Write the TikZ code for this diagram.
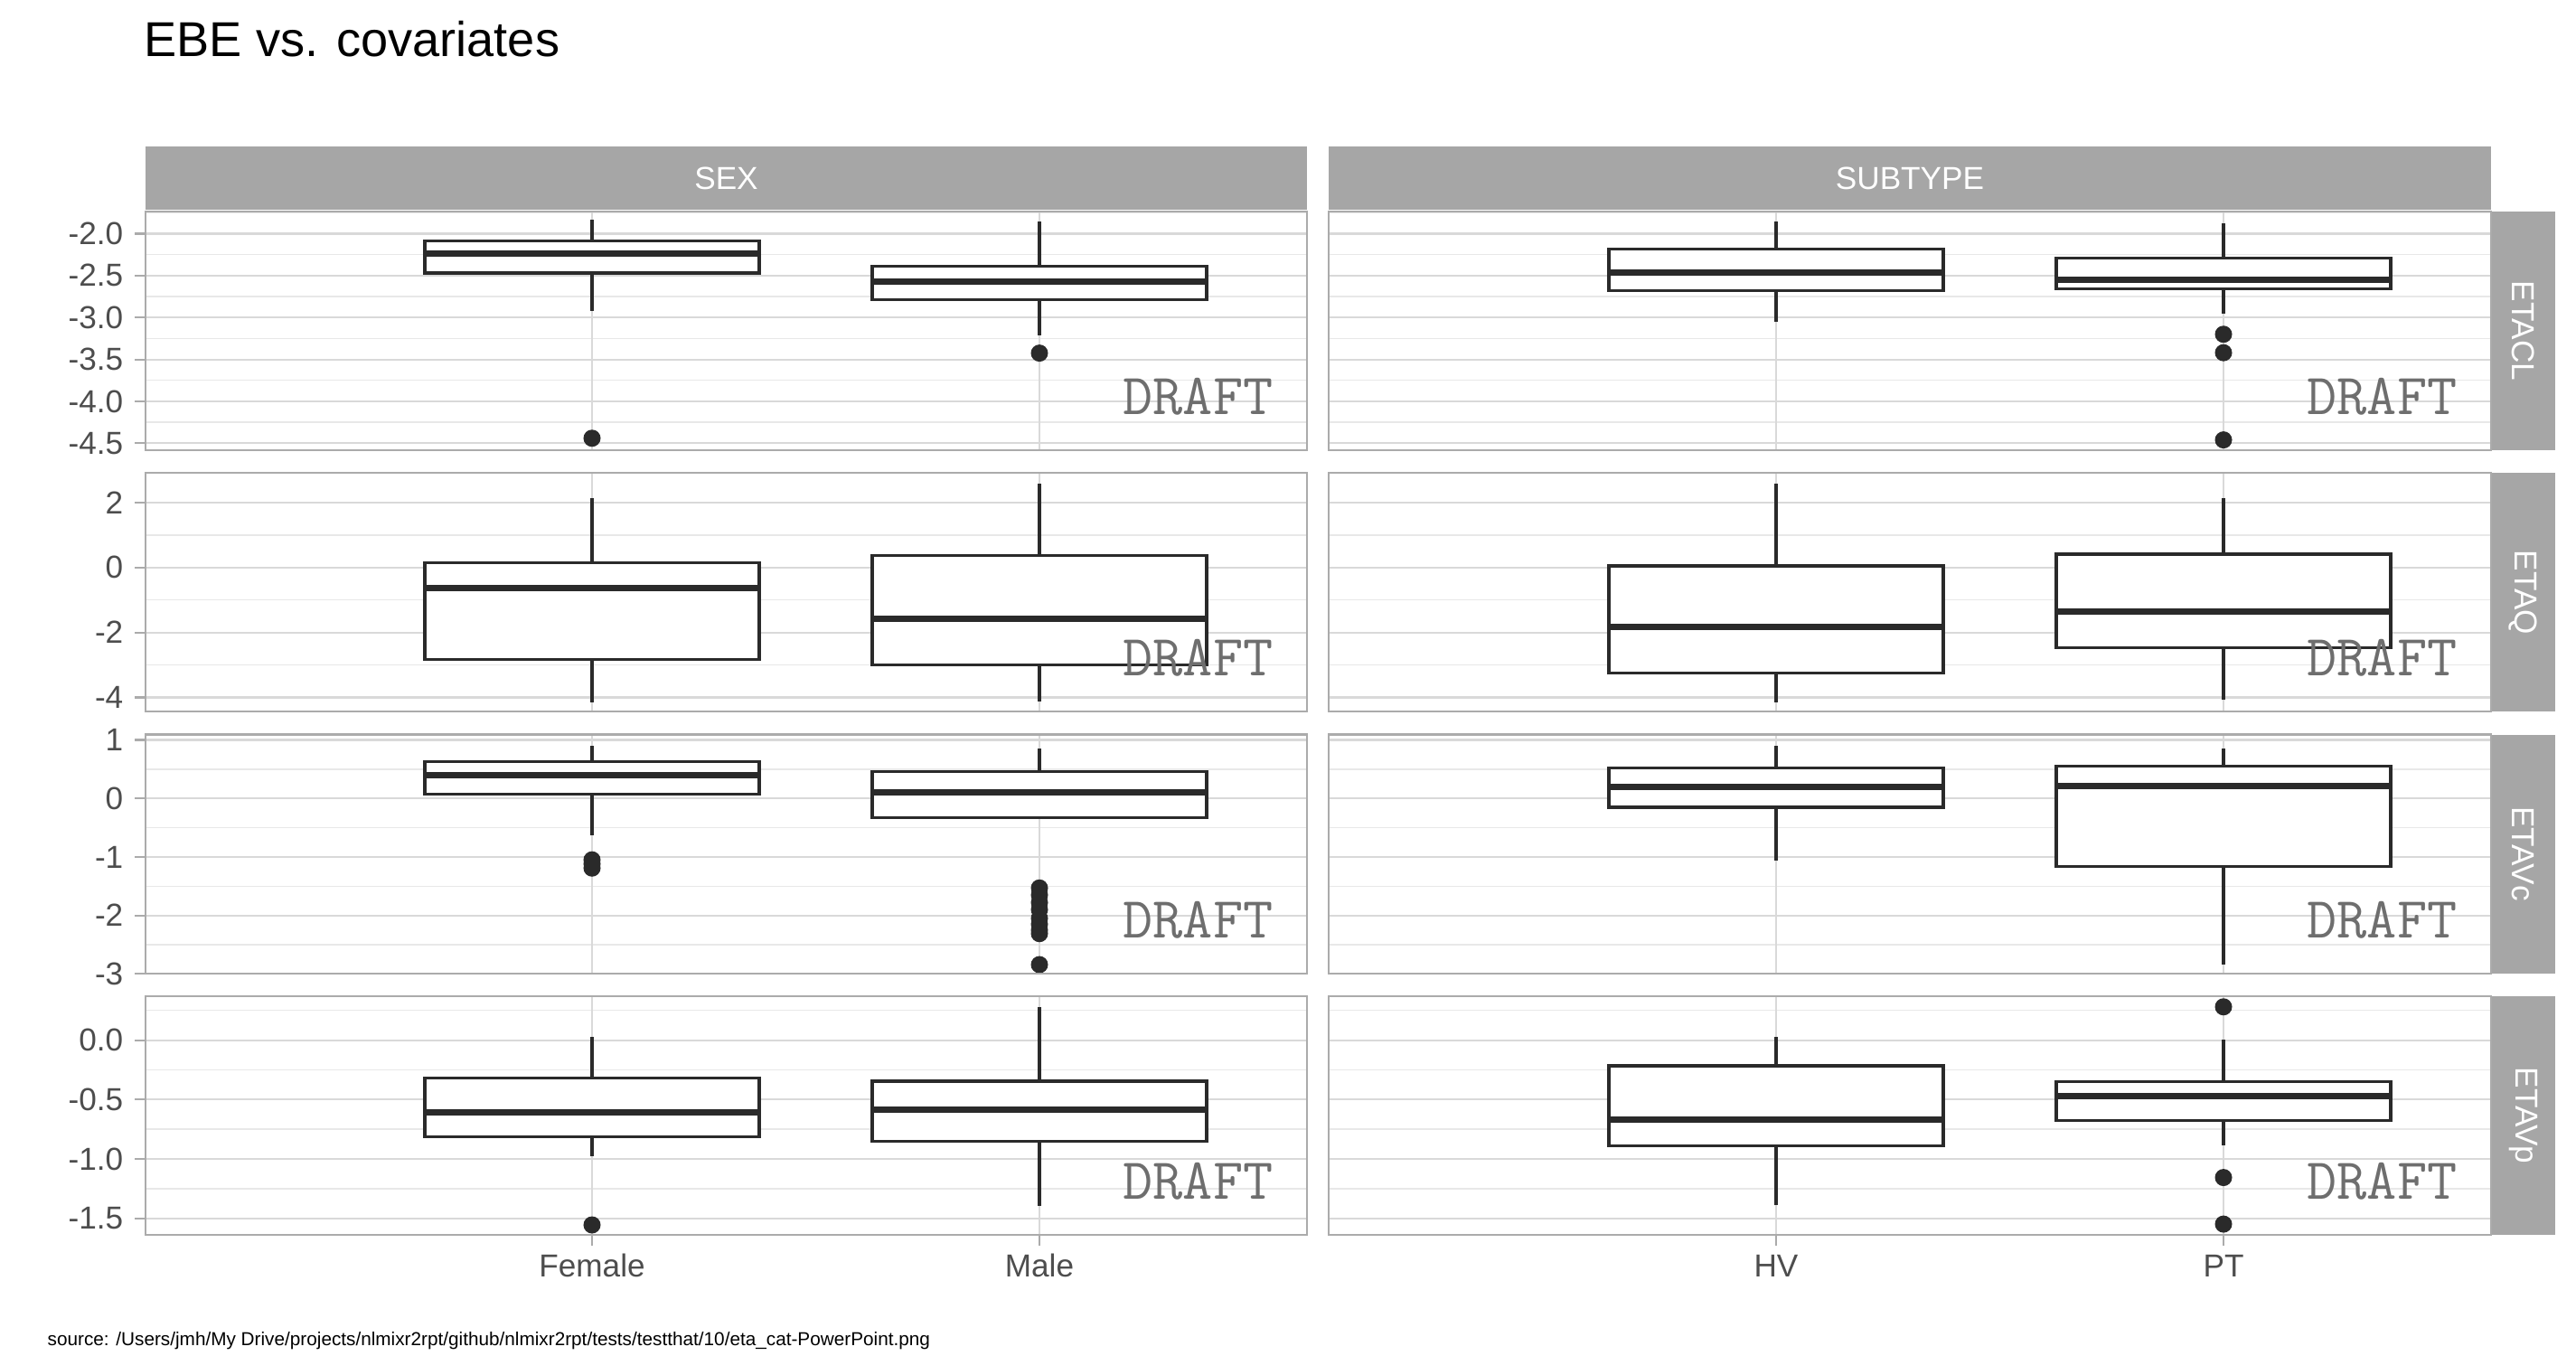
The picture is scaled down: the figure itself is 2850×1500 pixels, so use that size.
\documentclass[tikz,border=0pt]{standalone}
\usepackage{fontspec}
\setmainfont{Liberation Sans}

\definecolor{stripg}{HTML}{A6A6A6}
\definecolor{frameg}{HTML}{ABABAB}
\definecolor{gridA}{HTML}{D9D9D9}
\definecolor{gridB}{HTML}{E8E8E8}
\definecolor{boxln}{HTML}{2A2A2A}
\definecolor{axtxt}{HTML}{4D4D4D}
\definecolor{draftg}{HTML}{6E6E6E}

\tikzset{
  gridmaj/.style={draw=gridA, line width=0.6pt},
  gridmin/.style={draw=gridB, line width=0.4pt},
  gridvert/.style={draw=gridA, line width=0.4pt},
  panelframe/.style={draw=frameg, line width=0.6pt, minimum width=12.85cm, minimum height=2.64cm, inner sep=0pt},
  stripbox/.style={fill=stripg, text=white, inner sep=0pt, font=\fontsize{10}{12}\selectfont},
  tickln/.style={draw=frameg, line width=0.6pt},
  ylab/.style={anchor=east, inner sep=0pt, text=axtxt, font=\fontsize{10}{12}\selectfont},
  xlab/.style={anchor=base, inner sep=0pt, text=axtxt, font=\fontsize{10}{12}\selectfont},
  whisk/.style={draw=boxln, line width=0.9pt},
  boxs/.style={draw=boxln, fill=white, line width=0.9pt},
  medline/.style={draw=boxln, line width=2pt},
  outl/.style={fill=boxln},
  drafttxt/.style={anchor=base east, inner sep=0pt, text=draftg, font=\ttfamily\fontsize{18.3}{20}\selectfont},
}

% x, lower whisker, q1, median, q3, upper whisker
\newcommand{\boxwhisker}[6]{%
  \draw[whisk] (#1,#2) -- (#1,#6);
  \draw[boxs] (#1-185,#3) rectangle (#1+185,#5);
  \draw[medline] (#1-185,#4) -- (#1+185,#4);
}

\begin{document}
\begin{tikzpicture}[x=0.01cm,y=-0.01cm]
    \useasboundingbox[fill=white] (0,0) rectangle (2850,1500);
    \node[anchor=base west, inner sep=0pt, font=\fontsize{15.4}{18}\selectfont] (title) at (159,63) {EBE vs. covariates};

    % facet strips
    \node[stripbox, minimum width=12.85cm, minimum height=0.70cm] (sSEX) at (803.5,197) {SEX};
    \node[stripbox, minimum width=12.85cm, minimum height=0.70cm] (sSUB) at (2113,197) {SUBTYPE};
    \foreach \yc/\nm in {366/ETACL, 655.3/ETAQ, 944.6/ETAVc, 1233.9/ETAVp}
        \node[stripbox, rotate=-90, minimum width=2.64cm, minimum height=0.71cm] (s\nm) at (2791.5,\yc) {\nm};

    % ETACL
    \begin{scope}[yshift=-0.729cm, y=0.927cm]
        \foreach \v in {-1.75,-2.25,-2.75,-3.25,-3.75,-4.25}
            \draw[gridmin] (161,\v) -- (1446,\v) (1470.5,\v) -- (2755.5,\v);
        \foreach \v/\lab [count=\i] in {-2/-2.0,-2.5/-2.5,-3/-3.0,-3.5/-3.5,-4/-4.0,-4.5/-4.5} {
            \draw[gridmaj] (161,\v) -- (1446,\v) (1470.5,\v) -- (2755.5,\v);
            \draw[tickln] (149,\v) -- (161,\v);
            \node[ylab] (ya\i) at (137,\v) {\lab};
        }
    \end{scope}
    % ETAQ
    \begin{scope}[yshift=-6.274cm, y=0.359cm]
        \foreach \v in {1,-1,-3}
            \draw[gridmin] (161,\v) -- (1446,\v) (1470.5,\v) -- (2755.5,\v);
        \foreach \v/\lab [count=\i] in {2/2,0/0,-2/-2,-4/-4} {
            \draw[gridmaj] (161,\v) -- (1446,\v) (1470.5,\v) -- (2755.5,\v);
            \draw[tickln] (149,\v) -- (161,\v);
            \node[ylab] (yb\i) at (137,\v) {\lab};
        }
    \end{scope}
    % ETAVc
    \begin{scope}[yshift=-8.827cm, y=0.647cm]
        \foreach \v in {0.5,-0.5,-1.5,-2.5}
            \draw[gridmin] (161,\v) -- (1446,\v) (1470.5,\v) -- (2755.5,\v);
        \foreach \v/\lab [count=\i] in {1/1,0/0,-1/-1,-2/-2,-3/-3} {
            \draw[gridmaj] (161,\v) -- (1446,\v) (1470.5,\v) -- (2755.5,\v);
            \draw[tickln] (149,\v) -- (161,\v);
            \node[ylab] (yc\i) at (137,\v) {\lab};
        }
    \end{scope}
    % ETAVp
    \begin{scope}[yshift=-11.499cm, y=1.314cm]
        \foreach \v in {0.25,-0.25,-0.75,-1.25}
            \draw[gridmin] (161,\v) -- (1446,\v) (1470.5,\v) -- (2755.5,\v);
        \foreach \v/\lab [count=\i] in {0/0.0,-0.5/-0.5,-1/-1.0,-1.5/-1.5} {
            \draw[gridmaj] (161,\v) -- (1446,\v) (1470.5,\v) -- (2755.5,\v);
            \draw[tickln] (149,\v) -- (161,\v);
            \node[ylab] (yd\i) at (137,\v) {\lab};
        }
    \end{scope}

    \foreach \yt in {234,523.3,812.6,1101.9}
        \foreach \xc in {655,1150,1965,2460}
            \draw[gridvert] (\xc,\yt) -- (\xc,\yt+264);

    % boxes
    \begin{scope}[yshift=-0.729cm, y=0.927cm]
        \boxwhisker{655}{-2.92}{-2.47}{-2.237}{-2.086}{-1.836}
        \boxwhisker{1150}{-3.216}{-2.79}{-2.577}{-2.39}{-1.857}
        \boxwhisker{1965}{-3.05}{-2.68}{-2.46}{-2.18}{-1.85}
        \boxwhisker{2460}{-2.95}{-2.66}{-2.55}{-2.29}{-1.88}
        \fill[outl] (655,-4.44) circle (0.095cm);
        \fill[outl] (1150,-3.425) circle (0.095cm);
        \foreach \v in {-3.2,-3.42,-4.46}
            \fill[outl] (2460,\v) circle (0.095cm);
    \end{scope}
    \begin{scope}[yshift=-6.274cm, y=0.359cm]
        \boxwhisker{655}{-4.15}{-2.84}{-0.63}{0.136}{2.15}
        \boxwhisker{1150}{-4.12}{-2.99}{-1.59}{0.376}{2.59}
        \boxwhisker{1965}{-4.15}{-3.24}{-1.84}{0.05}{2.59}
        \boxwhisker{2460}{-4.08}{-2.48}{-1.35}{0.41}{2.15}
    \end{scope}
    \begin{scope}[yshift=-8.827cm, y=0.647cm]
        \boxwhisker{655}{-0.632}{0.077}{0.397}{0.632}{0.906}
        \boxwhisker{1150}{-0.323}{-0.323}{0.108}{0.456}{0.86}
        \boxwhisker{1965}{-1.065}{-0.15}{0.19}{0.52}{0.9}
        \boxwhisker{2460}{-2.84}{-1.165}{0.21}{0.556}{0.86}
        \foreach \v in {-1.05,-1.12,-1.19}
            \fill[outl] (655,\v) circle (0.095cm);
        \foreach \v in {-1.53,-1.65,-1.78,-1.9,-2.05,-2.15,-2.25,-2.31,-2.84}
            \fill[outl] (1150,\v) circle (0.095cm);
    \end{scope}
    \begin{scope}[yshift=-11.499cm, y=1.314cm]
        \boxwhisker{655}{-0.98}{-0.815}{-0.61}{-0.32}{0.025}
        \boxwhisker{1150}{-1.395}{-0.85}{-0.585}{-0.345}{0.278}
        \boxwhisker{1965}{-1.39}{-0.89}{-0.666}{-0.216}{0.024}
        \boxwhisker{2460}{-0.887}{-0.678}{-0.472}{-0.347}{0.005}
        \fill[outl] (655,-1.555) circle (0.095cm);
        \foreach \v in {0.28,-1.156,-1.548}
            \fill[outl] (2460,\v) circle (0.095cm);
    \end{scope}

    % panel borders and watermark
    \foreach \yc [count=\r] in {366,655.3,944.6,1233.9} {
        \node[panelframe] (p\r a) at (803.5,\yc) {};
        \node[panelframe] (p\r b) at (2113,\yc) {};
        \node[drafttxt] (d\r a) at (1409,\yc+92.5) {DRAFT};
        \node[drafttxt] (d\r b) at (2719,\yc+92.5) {DRAFT};
    }

    % x axis
    \foreach \xc/\lab in {655/Female,1150/Male,1965/HV,2460/PT} {
        \draw[tickln] (\xc,1366) -- (\xc,1378);
        \node[xlab] (x\lab) at (\xc,1412.8) {\lab};
    }

    \node[anchor=base west, inner sep=0pt, font=\fontsize{5.9}{7}\selectfont] (src) at (52,1488) {source: /Users/jmh/My Drive/projects/nlmixr2rpt/github/nlmixr2rpt/tests/testthat/10/eta\_cat-PowerPoint.png};
\end{tikzpicture}
\end{document}
